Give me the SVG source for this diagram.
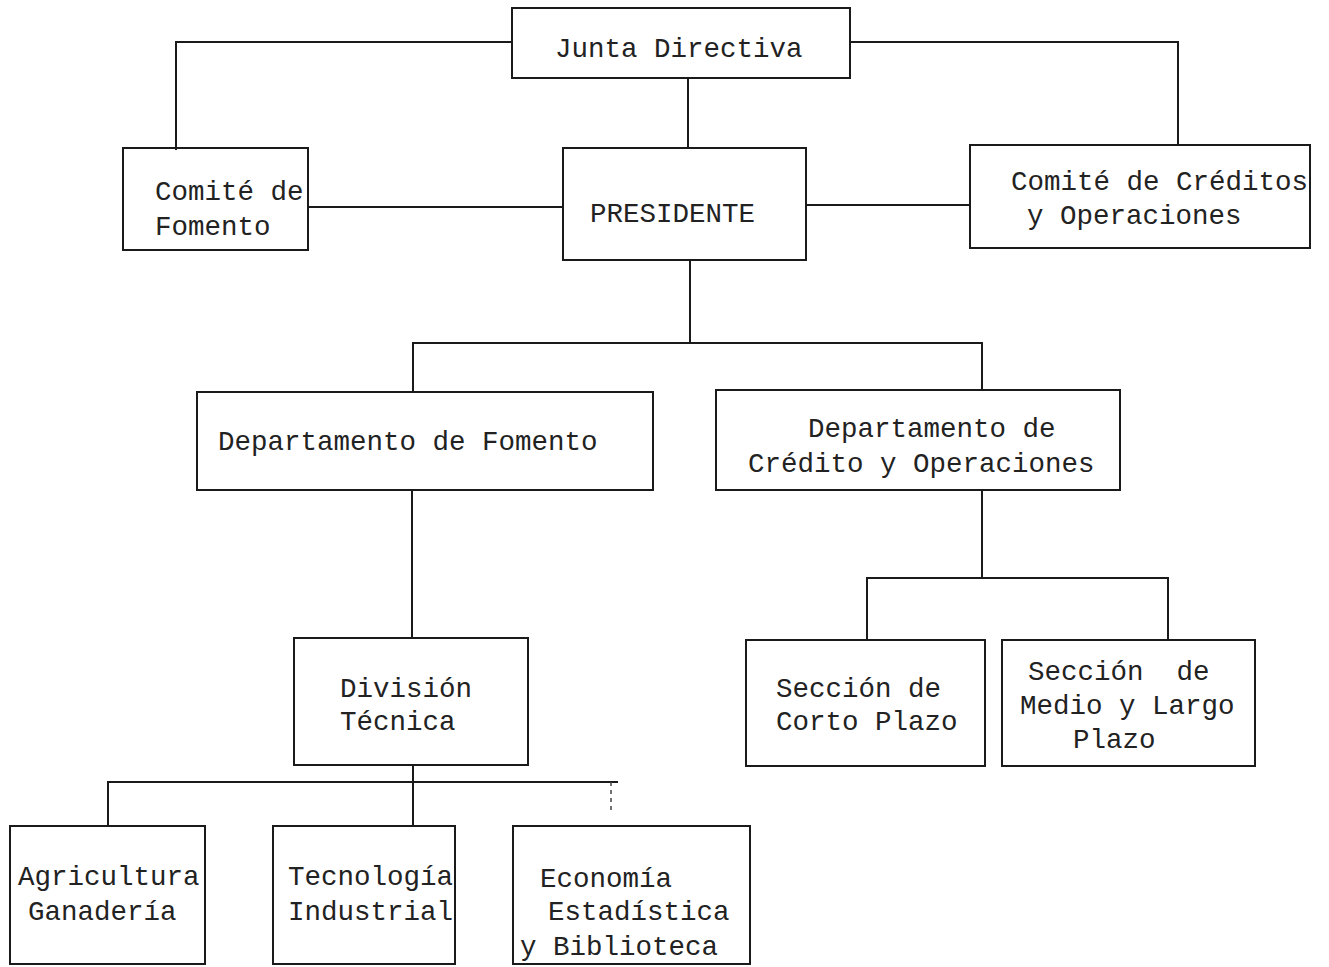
<svg xmlns="http://www.w3.org/2000/svg" width="1329" height="967" viewBox="0 0 1329 967">
<style>
.box{fill:none;stroke:#1a1a1a;stroke-width:2}
.ln{fill:none;stroke:#1a1a1a;stroke-width:2}
.dash{fill:none;stroke:#444;stroke-width:1.5;stroke-dasharray:4 4}
text{font-family:"Liberation Mono","Courier New",monospace;font-size:27.5px;fill:#222;white-space:pre}
</style>
<rect width="1329" height="967" fill="#fff"/>
<g id="connectors">
<polyline class="ln" points="512,42 176,42 176,150"/>
<polyline class="ln" points="850,42 1178,42 1178,146"/>
<line class="ln" x1="688" y1="78" x2="688" y2="148"/>
<line class="ln" x1="308" y1="207" x2="563" y2="207"/>
<line class="ln" x1="806" y1="205" x2="970" y2="205"/>
<line class="ln" x1="690" y1="260" x2="690" y2="343"/>
<polyline class="ln" points="413,392 413,343 982,343 982,390"/>
<line class="ln" x1="412" y1="490" x2="412" y2="638"/>
<line class="ln" x1="413" y1="765" x2="413" y2="826"/>
<polyline class="ln" points="108,826 108,782 618,782"/>
<line class="dash" x1="611" y1="782" x2="611" y2="812"/>
<line class="ln" x1="982" y1="490" x2="982" y2="578"/>
<polyline class="ln" points="867,640 867,578 1168,578 1168,640"/>
</g>
<g id="junta">
<rect class="box" x="512" y="8" width="338" height="70"/>
<text x="555" y="57">Junta Directiva</text>
</g>
<g id="comite-fomento">
<rect class="box" x="123" y="148" width="185" height="102"/>
<text x="155" y="200">Comité de</text>
<text x="155" y="235">Fomento</text>
</g>
<g id="presidente">
<rect class="box" x="563" y="148" width="243" height="112"/>
<text x="590" y="222">PRESIDENTE</text>
</g>
<g id="comite-creditos">
<rect class="box" x="970" y="145" width="340" height="103"/>
<text x="1011" y="190">Comité de Créditos</text>
<text x="1027" y="224">y Operaciones</text>
</g>
<g id="dep-fomento">
<rect class="box" x="197" y="392" width="456" height="98"/>
<text x="218" y="450">Departamento de Fomento</text>
</g>
<g id="dep-credito">
<rect class="box" x="716" y="390" width="404" height="100"/>
<text x="808" y="437">Departamento de</text>
<text x="748" y="472">Crédito y Operaciones</text>
</g>
<g id="division-tecnica">
<rect class="box" x="294" y="638" width="234" height="127"/>
<text x="340" y="697">División</text>
<text x="340" y="730">Técnica</text>
</g>
<g id="corto-plazo">
<rect class="box" x="746" y="640" width="239" height="126"/>
<text x="776" y="697">Sección de</text>
<text x="776" y="730">Corto Plazo</text>
</g>
<g id="medio-largo">
<rect class="box" x="1002" y="640" width="253" height="126"/>
<text x="1028" y="680" xml:space="preserve">Sección  de</text>
<text x="1020" y="714">Medio y Largo</text>
<text x="1073" y="748">Plazo</text>
</g>
<g id="agricultura">
<rect class="box" x="10" y="826" width="195" height="138"/>
<text x="18" y="885">Agricultura</text>
<text x="28" y="920">Ganadería</text>
</g>
<g id="tecnologia">
<rect class="box" x="273" y="826" width="182" height="138"/>
<text x="288" y="885">Tecnología</text>
<text x="288" y="920">Industrial</text>
</g>
<g id="economia">
<rect class="box" x="513" y="826" width="237" height="138"/>
<text x="540" y="887">Economía</text>
<text x="548" y="920">Estadística</text>
<text x="520" y="955">y Biblioteca</text>
</g>
</svg>
